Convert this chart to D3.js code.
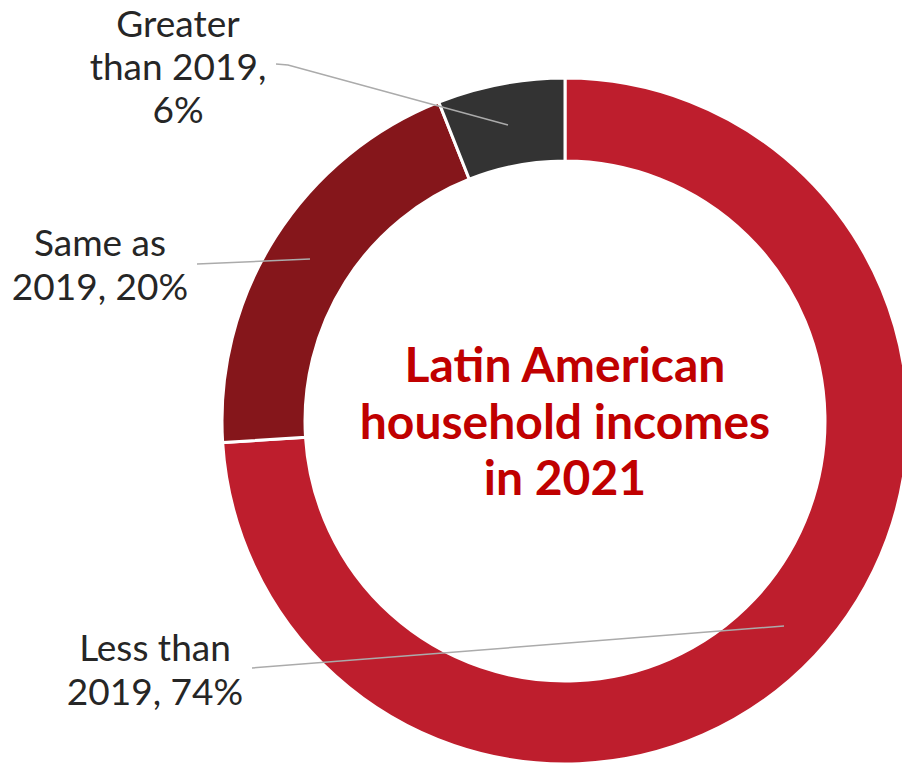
<!DOCTYPE html>
<html><head><meta charset="utf-8">
<script src="https://cdn.jsdelivr.net/npm/d3@7"></script>
<style>html,body{margin:0;padding:0;background:#fff;overflow:hidden}</style>
</head><body>
<svg id="chart" width="902" height="763"></svg>
<script>
const categories = ["Less than 2019", "Same as 2019", "Greater than 2019"];
const values = [74, 20, 6];
const colors = ["#BE1E2D", "#85161B", "#333333"];
const labelLines = [["Less than", "2019, 74%"], ["Same as", "2019, 20%"], ["Greater", "than 2019,", "6%"]];
const titleLines = ["Latin American", "household incomes", "in 2021"];

const svg = d3.select("#chart");
const cx = 565, cy = 421, rOuter = 343, rInner = 260;

const pie = d3.pie().sort(null).value(d => d)(values);
const arc = d3.arc().innerRadius(rInner).outerRadius(rOuter);
const g = svg.append("g").attr("transform", `translate(${cx},${cy})`);
g.selectAll("path").data(pie).join("path")
  .attr("d", arc).attr("fill", (d, i) => colors[i])
  .attr("stroke", "#fff").attr("stroke-width", 3);

const labelPos = [
  {x: 155, y: 661, lx: 252, ly: 668, mid: null, end: [784, 626]},
  {x: 100, y: 256, lx: 197, ly: 264, mid: null, end: [310, 259]},
  {x: 178, y: 37, lx: 276, ly: 64, mid: [288, 65], end: [508, 125]}
];
labelPos.forEach((p) => {
  const pts = [[p.lx, p.ly]];
  if (p.mid) pts.push(p.mid);
  pts.push(p.end);
  svg.append("path").attr("d", d3.line()(pts))
    .attr("fill", "none").attr("stroke", "#ababab").attr("stroke-width", 1.5);
});

labelLines.forEach((lines, i) => {
  const t = svg.append("text").attr("text-anchor", "middle")
    .attr("font-family", "Lato, sans-serif").attr("font-size", 37)
    .attr("fill", "#262626");
  lines.forEach((ln, j) => {
    t.append("tspan").attr("x", labelPos[i].x).attr("y", labelPos[i].y + j * (i === 2 ? 43 : 44)).text(ln);
  });
});

const tt = svg.append("text").attr("text-anchor", "middle")
  .attr("font-family", "Lato, sans-serif").attr("font-weight", "bold")
  .attr("font-size", 48).attr("fill", "#C00000");
titleLines.forEach((ln, j) => {
  tt.append("tspan").attr("x", cx).attr("y", 382 + j * 56.5).text(ln);
});
</script>
</body></html>
